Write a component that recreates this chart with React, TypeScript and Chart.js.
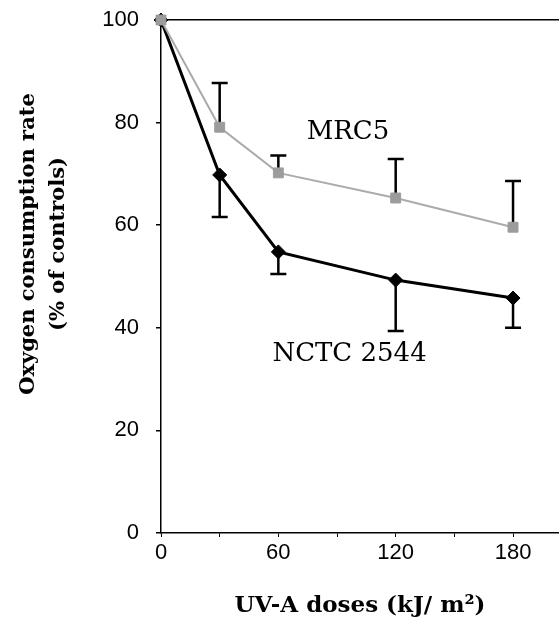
import React, { useEffect, useRef } from 'react';
import { Chart, registerables } from 'chart.js';

Chart.register(...registerables);

// ---- data ----
const doses = [0, 30, 60, 120, 180];
const mrc5Values = [100, 79.1, 70.2, 65.3, 59.6];
const mrc5ErrUp = [0, 8.6, 3.4, 7.6, 9.0];
const nctcValues = [100, 69.8, 54.8, 49.3, 45.8];
const nctcErrDown = [0, 8.2, 4.3, 9.9, 5.8];
const xTickValues = [0, 30, 60, 90, 120, 150, 180];
const yTickValues = [0, 20, 40, 60, 80, 100];
const seriesNames = ['MRC5', 'NCTC 2544'];
const xTitle = 'UV-A doses (kJ/ m\u00B2)';
const yTitleLines = ['Oxygen consumption rate', '(% of controls)'];
// label anchor positions in data units
const labelAnchors = [
  { x: 95.6, y: 78.2 },
  { x: 96.4, y: 34.9 },
];

const errorBarPlugin = {
  id: 'errorBars',
  beforeDatasetsDraw(chart: any) {
    const { ctx, scales } = chart;
    const xs = scales.x;
    const ys = scales.y;
    ctx.save();
    ctx.strokeStyle = '#000';
    ctx.lineWidth = 2.5;
    const cap = 8;
    const draw = (vals: number[], errs: number[], dir: number) => {
      doses.forEach((d, i) => {
        if (!errs[i]) return;
        const px = xs.getPixelForValue(d);
        const py0 = ys.getPixelForValue(vals[i]);
        const py1 = ys.getPixelForValue(vals[i] + dir * errs[i]);
        ctx.beginPath();
        ctx.moveTo(px, py0);
        ctx.lineTo(px, py1);
        ctx.moveTo(px - cap, py1);
        ctx.lineTo(px + cap, py1);
        ctx.stroke();
      });
    };
    draw(mrc5Values, mrc5ErrUp, 1);
    draw(nctcValues, nctcErrDown, -1);
    ctx.restore();
  },
};

const textPlugin = {
  id: 'texts',
  afterDraw(chart: any) {
    const { ctx, scales } = chart;
    ctx.save();
    ctx.fillStyle = '#000';
    ctx.textAlign = 'center';
    ctx.textBaseline = 'middle';
    ctx.font = '26px "DejaVu Serif"';
    seriesNames.forEach((name, i) => {
      const a = labelAnchors[i];
      ctx.fillText(name, scales.x.getPixelForValue(a.x), scales.y.getPixelForValue(a.y));
    });
    // y axis title (two lines, rotated)
    ctx.font = 'bold 21px "DejaVu Serif"';
    const cy = 244;
    const xsLines = [29, 59];
    yTitleLines.forEach((line, i) => {
      ctx.save();
      ctx.translate(xsLines[i], cy);
      ctx.rotate(-Math.PI / 2);
      ctx.fillText(line, 0, 0);
      ctx.restore();
    });
    ctx.restore();
  },
};

export default function App() {
  const ref = useRef<HTMLCanvasElement>(null);
  useEffect(() => {
    if (!ref.current) return;
    const tickFont = { family: '"Liberation Sans", Arial, sans-serif', size: 22 };
    const chart = new Chart(ref.current, {
      type: 'line',
      data: {
        datasets: [
          {
            label: seriesNames[0],
            data: doses.map((d, i) => ({ x: d, y: mrc5Values[i] })),
            borderColor: '#ababab',
            borderWidth: 2,
            backgroundColor: '#9c9c9c',
            pointBackgroundColor: '#9c9c9c',
            pointBorderColor: '#9c9c9c',
            pointBorderWidth: 1,
            pointStyle: 'rect',
            pointRadius: 7,
            tension: 0,
            clip: false,
          },
          {
            label: seriesNames[1],
            data: doses.map((d, i) => ({ x: d, y: nctcValues[i] })),
            borderColor: '#000',
            borderWidth: 3,
            backgroundColor: '#000',
            pointBackgroundColor: '#000',
            pointBorderColor: '#000',
            pointBorderWidth: 1,
            pointStyle: 'rectRot',
            pointRadius: 7,
            tension: 0,
            clip: false,
          },
        ],
      },
      options: {
        responsive: false,
        animation: false,
        devicePixelRatio: 1,
        layout: { autoPadding: false, padding: { left: 0, right: 0, top: 20, bottom: 0 } },
        plugins: {
          legend: { display: false },
          tooltip: { enabled: false },
        },
        scales: {
          x: {
            type: 'linear',
            min: 0,
            max: 203.5,
            afterBuildTicks: (axis: any) => {
              axis.ticks = xTickValues.map((v) => ({ value: v }));
            },
            afterFit: (scale: any) => {
              scale.height = 93;
              scale.paddingLeft = 0;
              scale.paddingRight = 0;
            },
            ticks: {
              autoSkip: false,
              maxRotation: 0,
              color: '#000',
              font: tickFont,
              padding: 3,
              callback: (v: any) => (Number(v) % 60 === 0 ? String(v) : ''),
            },
            grid: {
              drawOnChartArea: false,
              tickLength: 4,
              color: '#000',
              tickColor: '#000',
              lineWidth: 1,
            },
            border: { color: '#000', width: 1.5 },
            title: {
              display: true,
              text: xTitle,
              color: '#000',
              font: { family: '"DejaVu Serif"', size: 23, weight: 'bold' },
              padding: { top: 0, bottom: 6 },
            },
          },
          y: {
            type: 'linear',
            min: 0,
            max: 100,
            afterBuildTicks: (axis: any) => {
              axis.ticks = yTickValues.map((v) => ({ value: v }));
            },
            afterFit: (scale: any) => {
              scale.width = 161;
              scale.paddingTop = 0;
              scale.paddingBottom = 0;
            },
            ticks: {
              color: '#000',
              font: tickFont,
              padding: 17,
            },
            grid: {
              tickLength: 5,
              tickColor: '#000',
              lineWidth: 1.5,
              color: (c: any) => (c.tick && c.tick.value === 100 ? '#000' : 'rgba(0,0,0,0)'),
            },
            border: { color: '#000', width: 1.5 },
          },
        },
      },
      plugins: [errorBarPlugin, textPlugin],
    } as any);
    return () => chart.destroy();
  }, []);
  return (
    <div style={{ position: 'fixed', left: 0, top: 0, width: 559, height: 626, background: '#fff' }}>
      <canvas ref={ref} width={559} height={626} style={{ width: 559, height: 626, display: 'block' }} />
    </div>
  );
}
